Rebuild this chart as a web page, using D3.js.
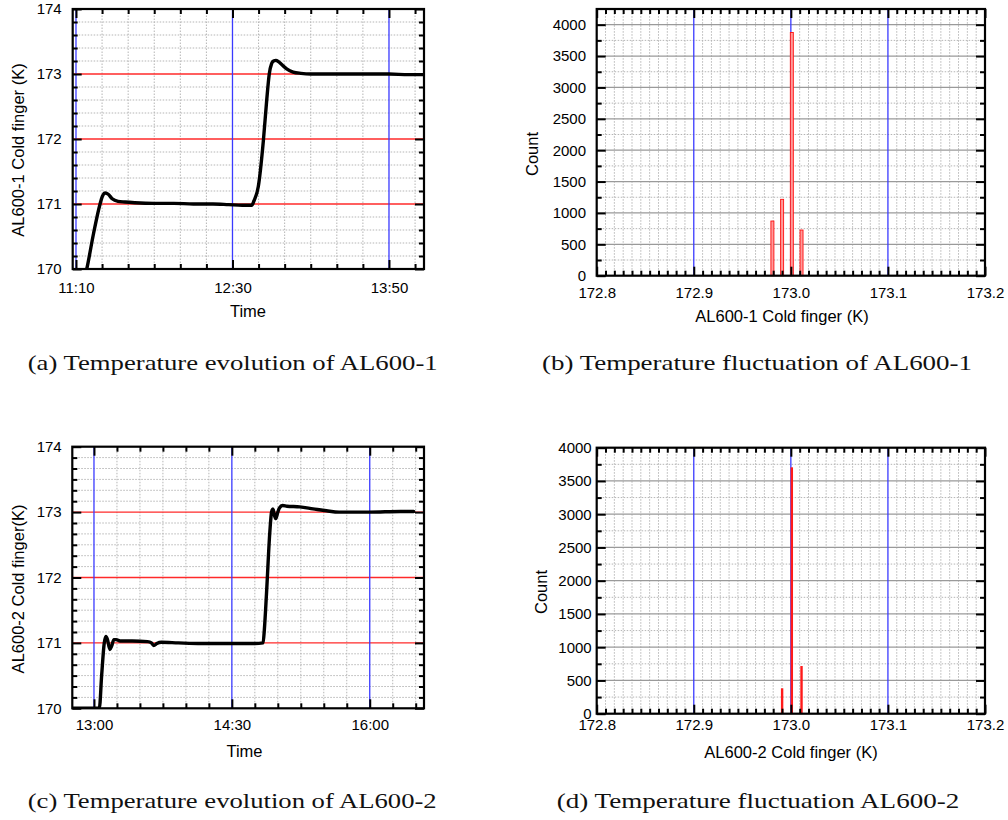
<!DOCTYPE html>
<html><head><meta charset="utf-8">
<script src="https://cdn.jsdelivr.net/npm/d3@7"></script>
<style>body{margin:0;background:#fff}</style></head>
<body>
<svg id="c" width="1008" height="820"></svg>
<script>
// ---------------- data ----------------
const timeA = ["11:08:00","11:15:30","11:19:00","11:22:18","11:23:30","11:25:00","11:26:30","11:28:30","11:31:30","11:35:00","11:40:00","11:50:00","12:00:00","12:10:00","12:20:00","12:28:00","12:35:00","12:39:48","12:41:00","12:43:12","12:45:48","12:47:30","12:48:48","12:50:00","12:51:00","12:52:12","12:53:30","12:55:00","12:57:42","13:01:00","13:05:00","13:10:00","13:30:00","13:50:00","14:00:00","14:08:30"];
const tempA = [169.4,170.0,170.55,171.0,171.12,171.17,171.15,171.08,171.04,171.03,171.02,171.01,171.01,171.0,171.0,170.99,170.98,170.98,171.05,171.27,171.98,172.6,173.0,173.16,173.2,173.21,173.19,173.15,173.08,173.03,173.01,173.0,173.0,173.0,172.99,172.99];

const timeC = ["12:45:00","13:03:30","13:05:00","13:06:42","13:07:48","13:08:48","13:10:24","13:11:30","13:13:00","13:14:30","13:17:00","13:25:00","13:35:00","13:37:30","13:39:00","13:41:00","13:44:00","13:55:00","14:10:00","14:30:00","14:45:00","14:50:24","14:51:12","14:52:36","14:54:48","14:55:54","14:56:48","14:57:48","14:58:42","15:00:00","15:01:00","15:03:06","15:06:00","15:14:18","15:23:00","15:31:48","15:40:00","16:00:00","16:20:00","16:28:42"];
const tempC = [170.0,170.0,170.5,171.0,171.1,171.05,170.9,170.95,171.05,171.05,171.03,171.03,171.02,171.0,170.96,170.99,171.01,171.0,170.99,170.99,170.99,171.0,171.2,171.75,172.7,173.0,173.05,172.95,172.9,173.0,173.06,173.1,173.09,173.08,173.05,173.02,173.0,173.0,173.01,173.01];

const binsB = [172.981, 172.991, 173.001, 173.011];
const countsB = [871, 1217, 3876, 728];
const binsD = [172.991, 173.001, 173.011];
const countsD = [382, 3705, 717];

const tempTicks = [170, 171, 172, 173, 174];
const timeTicksA = ["11:10:00", "12:30:00", "13:50:00"];
const timeTicksC = ["13:00:00", "14:30:00", "16:00:00"];
const kelvinTicks = [172.8, 172.9, 173.0, 173.1, 173.2];
const countTicks = [0, 500, 1000, 1500, 2000, 2500, 3000, 3500, 4000];

const captions = ["(a) Temperature evolution of AL600-1", "(b) Temperature fluctuation of AL600-1",
                  "(c) Temperature evolution of AL600-2", "(d) Temperature fluctuation AL600-2"];

// ---------------- drawing ----------------
const parseT = d3.timeParse("%H:%M:%S");
const svg = d3.select("#c");
const SANS = "'Liberation Sans', Arial, sans-serif";
const BLUE = "#3a3aff", RED = "#ff2a2a";
const num = v => +(+v).toFixed(6);

function drawPanel(o) {
  const g = svg.append("g");
  const [x0, x1] = o.x.range(), [y0, y1] = o.y.range();
  const key = v => +v;
  const majX = new Set(o.xMajor.map(key)), majY = new Set(o.yMajor.map(key));
  const xMin = o.xMinor.filter(d => !majX.has(key(d)));
  const yMin = o.yMinor.filter(d => !majY.has(key(d)));
  const inX = d => o.x(d) > x0 + 1 && o.x(d) < x1 - 1;
  const inY = d => o.y(d) < y0 - 1 && o.y(d) > y1 + 1;

  // minor dotted grid
  g.append("g").selectAll("line").data(xMin.filter(inX)).join("line")
    .attr("x1", d => o.x(d)).attr("x2", d => o.x(d)).attr("y1", y0).attr("y2", y1)
    .attr("stroke", "#b5b5b5").attr("stroke-width", 1).attr("stroke-dasharray", "1.5,1.5");
  g.append("g").selectAll("line").data(yMin.filter(inY)).join("line")
    .attr("y1", d => o.y(d)).attr("y2", d => o.y(d)).attr("x1", x0).attr("x2", x1)
    .attr("stroke", "#b5b5b5").attr("stroke-width", 1).attr("stroke-dasharray", "1.5,1.5");
  // major grid
  g.append("g").selectAll("line").data(o.yMajor.filter(inY)).join("line")
    .attr("y1", d => o.y(d)).attr("y2", d => o.y(d)).attr("x1", x0).attr("x2", x1)
    .attr("stroke", o.yMajorColor).attr("stroke-width", o.yMajorWidth || 1.3);
  g.append("g").selectAll("line").data(o.xMajor.filter(inX)).join("line")
    .attr("x1", d => o.x(d)).attr("x2", d => o.x(d)).attr("y1", y0).attr("y2", y1)
    .attr("stroke", o.xMajorColor).attr("stroke-width", 1.3);

  const dataLayer = g.append("g");
  o.draw(dataLayer);

  // frame
  g.append("rect").attr("x", x0).attr("y", y1).attr("width", x1 - x0).attr("height", y0 - y1)
    .attr("fill", "none").attr("stroke", "#000").attr("stroke-width", 2.2);

  const style = sel => {
    sel.select(".domain").remove();
    sel.attr("font-family", SANS).attr("font-size", 15);
    sel.selectAll(".tick line").attr("stroke", "#000").attr("stroke-width", 2);
    sel.selectAll(".tick text").attr("fill", "#000");
  };
  const M = 9, m = 5;
  const axes = [
    [d3.axisBottom(o.x).tickValues(o.xMajor).tickSizeInner(-M).tickPadding(o.padX).tickFormat(o.fmtX), `translate(0,${y0})`],
    [d3.axisBottom(o.x).tickValues(xMin.filter(inX)).tickSizeInner(-m).tickFormat(""), `translate(0,${y0})`],
    [d3.axisTop(o.x).tickValues(o.xMajor).tickSizeInner(-M).tickFormat(""), `translate(0,${y1})`],
    [d3.axisTop(o.x).tickValues(xMin.filter(inX)).tickSizeInner(-m).tickFormat(""), `translate(0,${y1})`],
    [d3.axisLeft(o.y).tickValues(o.yMajor).tickSizeInner(-M).tickPadding(o.padY).tickFormat(o.fmtY), `translate(${x0},0)`],
    [d3.axisLeft(o.y).tickValues(yMin.filter(inY)).tickSizeInner(-m).tickFormat(""), `translate(${x0},0)`],
    [d3.axisRight(o.y).tickValues(o.yMajor).tickSizeInner(-M).tickFormat(""), `translate(${x1},0)`],
    [d3.axisRight(o.y).tickValues(yMin.filter(inY)).tickSizeInner(-m).tickFormat(""), `translate(${x1},0)`]
  ];
  axes.forEach(([ax, tr]) => g.append("g").attr("transform", tr).call(ax.tickSizeOuter(0)).call(style));

  // titles
  g.append("text").attr("x", o.xTitle[0]).attr("y", o.xTitle[1]).attr("text-anchor", "middle")
    .attr("font-family", SANS).attr("font-size", 16.5).text(o.xLabel);
  g.append("text").attr("transform", `translate(${o.yTitle[0]},${o.yTitle[1]}) rotate(-90)`)
    .attr("dy", "0.35em").attr("text-anchor", "middle")
    .attr("font-family", SANS).attr("font-size", 16.5).text(o.yLabel);
}

function timePanel(id, times, temps, majors, domain, stepSec, xr, yr, yMinorStep, pads, xTitle, yTitle, yLabel) {
  const x = d3.scaleTime().domain(domain.map(parseT)).range(xr);
  const y = d3.scaleLinear().domain([170, 174]).range(yr);
  const majD = majors.map(parseT);
  const base = majD[0];
  const xMinor = d3.range(-2, 20).map(k => d3.timeSecond.offset(base, k * stepSec))
    .filter(d => d >= x.domain()[0] && d <= x.domain()[1]);
  const yMinor = d3.range(0, Math.round(4 / yMinorStep) + 1).map(k => num(170 + k * yMinorStep));
  const pts = times.map((t, i) => [parseT(t), temps[i]]);
  svg.append("clipPath").attr("id", id).append("rect")
    .attr("x", xr[0]).attr("y", yr[1]).attr("width", xr[1] - xr[0]).attr("height", yr[0] - yr[1]);
  drawPanel({
    x, y, xMajor: majD, xMinor, yMajor: tempTicks, yMinor,
    xMajorColor: BLUE, yMajorColor: RED, padX: pads[0], padY: pads[1],
    fmtX: d3.timeFormat("%H:%M"), fmtY: d => d,
    xTitle, yTitle, xLabel: "Time", yLabel,
    draw: layer => layer.append("path").datum(pts).attr("clip-path", `url(#${id})`)
      .attr("fill", "none").attr("stroke", "#000").attr("stroke-width", 3.4)
      .attr("stroke-linejoin", "round").attr("stroke-linecap", "round")
      .attr("d", d3.line().x(d => x(d[0])).y(d => y(d[1])).curve(d3.curveMonotoneX))
  });
}

function histPanel(bins, counts, yMax, xr, yr, pads, xTitle, yTitle, xLabel, barW, fill, stroke) {
  const x = d3.scaleLinear().domain([172.8, 173.2]).range(xr);
  const y = d3.scaleLinear().domain([0, yMax]).range(yr);
  const xMinor = d3.range(0, 45).map(k => num(172.8 + k * 0.1 / 11));
  const yMinor = d3.range(0, Math.floor(yMax / 250) + 1).map(k => k * 250);
  const majXKeys = kelvinTicks;
  drawPanel({
    x, y, xMajor: majXKeys, xMinor: xMinor.filter((d, k) => k % 11 !== 0), yMajor: countTicks, yMinor,
    xMajorColor: BLUE, yMajorColor: "#9a9a9a", yMajorWidth: 1.3, padX: pads[0], padY: pads[1],
    fmtX: d3.format(".1f"), fmtY: d => d,
    xTitle, yTitle, xLabel, yLabel: "Count",
    draw: layer => layer.selectAll("rect").data(bins).join("rect")
      .attr("x", d => x(d) - barW / 2).attr("width", barW)
      .attr("y", (d, i) => y(counts[i])).attr("height", (d, i) => y(0) - y(counts[i]))
      .attr("fill", fill).attr("stroke", stroke).attr("stroke-width", stroke === "none" ? 0 : 0.9)
  });
}

timePanel("clipA", timeA, tempA, timeTicksA, ["11:08:19", "14:07:54"], 800,
  [72.7, 424], [269, 9], 0.2, [13, 11], [248, 317], [18, 150], "AL600-1 Cold finger (K)");
timePanel("clipC", timeC, tempC, timeTicksC, ["12:45:51", "16:35:25"], 900,
  [72.3, 424], [708.3, 446.7], 1 / 6, [11, 10.6], [244.5, 756.5], [18.5, 589], "AL600-2 Cold finger(K)");
histPanel(binsB, countsB, 4250, [596.7, 985], [275.7, 9], [11.4, 10.7], [782, 322], [532.5, 154],
  "AL600-1 Cold finger (K)", 3, "#ff9a9a", "#ff1010");
histPanel(binsD, countsD, 4000, [596.7, 985], [713.7, 447.7], [5.6, 5], [791, 757.5], [541, 592],
  "AL600-2 Cold finger (K)", 2.4, "#ff1a1a", "none");

// captions
const capPos = [[232.7, 370, 410], [757, 370, 430], [232.2, 808, 409], [758, 808, 402.6]];
svg.append("g").selectAll("text").data(captions).join("text")
  .attr("x", (d, i) => capPos[i][0]).attr("y", (d, i) => capPos[i][1])
  .attr("textLength", (d, i) => capPos[i][2]).attr("lengthAdjust", "spacingAndGlyphs")
  .attr("text-anchor", "middle").attr("font-family", "'Liberation Serif', 'Times New Roman', serif")
  .attr("font-size", 21).attr("fill", "#111").text(d => d);
</script>
</body></html>
